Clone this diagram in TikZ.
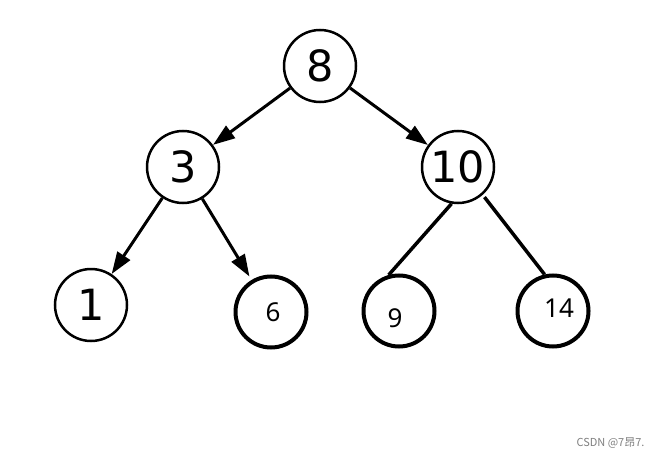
\documentclass[tikz,border=0pt]{standalone}
\usepackage{fontspec}
\setmainfont{DejaVu Sans}
\newfontfamily\smallfont{Noto Sans}
\newfontfamily\cjkfont{Noto Sans CJK SC}
\usetikzlibrary{arrows.meta}
\begin{document}
\begin{tikzpicture}[x=1pt,y=-1pt,
 big/.style={circle,draw,line width=2.5pt,minimum size=72pt,inner sep=0pt,font=\fontsize{43}{43}\selectfont},
 small/.style={circle,draw,line width=4pt,minimum size=71pt,inner sep=0pt},
 smalltext/.style={font=\smallfont\fontsize{26}{26}\selectfont},
 arr/.style={line width=3pt,-{Triangle[length=22pt,width=15pt]}},
 plainedge/.style={line width=3.5pt}]
\useasboundingbox[fill=white] (0,0) rectangle (663,457);
\node[big] (n8) at (320,66) {8};
\node[big] (n3) at (183,167) {3};
\node[big] (n10) at (458,167) {10};
\node[big] (n1) at (91,305) {1};
\node[small, label={[smalltext, xshift=2pt]center:6}] (n6) at (271,312) {};
\node[small, label={[smalltext, xshift=-4pt, yshift=-7pt]center:9}] (n9) at (399,311) {};
\node[small, label={[smalltext, xshift=6pt, yshift=3pt]center:14}] (n14) at (553,311) {};
\draw[arr] (n8) -- (n3);
\draw[arr] (n8) -- (n10);
\draw[arr] (n3) -- (n1);
\draw[arr, shorten >=4pt] (n3) -- (n6);
\draw[plainedge] (n10.260) -- (n9.106);
\draw[plainedge] ([shift={(2pt,-2pt)}]n10.311) -- (n14.103);
\node[font=\cjkfont\fontsize{11}{11}\selectfont, text=gray, anchor=east] (wm) at (648,443) {CSDN @7昂7.};
\end{tikzpicture}
\end{document}
